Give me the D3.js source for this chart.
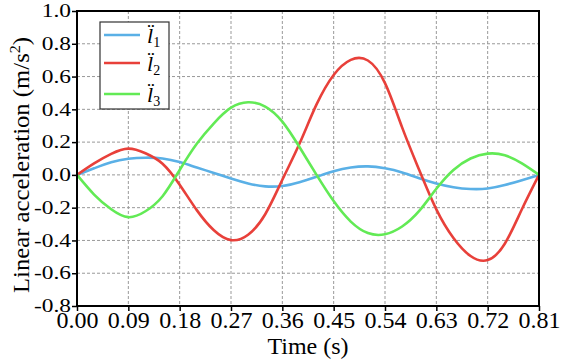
<!DOCTYPE html>
<html><head><meta charset="utf-8">
<script src="https://cdn.jsdelivr.net/npm/d3@7"></script>
<style>body{margin:0;background:#fff}svg{display:block}</style>
</head><body><svg id="c" width="579" height="359" font-family="Liberation Serif"></svg>
<script>
const time = [0,0.03,0.06,0.09,0.12,0.15,0.18,0.21,0.24,0.27,0.30,0.33,0.36,0.39,0.42,0.45,0.48,0.51,0.54,0.57,0.60,0.63,0.66,0.69,0.72,0.75,0.78,0.81];
const l1 = [0,0.040,0.077,0.098,0.105,0.100,0.078,0.045,0.012,-0.022,-0.052,-0.070,-0.068,-0.045,-0.012,0.022,0.045,0.052,0.040,0.015,-0.020,-0.052,-0.075,-0.086,-0.083,-0.062,-0.032,0];
const l2 = [0,0.070,0.128,0.160,0.132,0.068,-0.060,-0.215,-0.338,-0.398,-0.365,-0.240,-0.030,0.190,0.430,0.610,0.702,0.698,0.560,0.290,0.030,-0.210,-0.385,-0.495,-0.520,-0.420,-0.210,0];
const l3 = [0,-0.120,-0.210,-0.258,-0.222,-0.130,0.030,0.190,0.315,0.410,0.443,0.417,0.325,0.170,0.000,-0.160,-0.285,-0.355,-0.362,-0.315,-0.220,-0.085,0.030,0.100,0.130,0.120,0.070,0];
const xTicks = [0,0.09,0.18,0.27,0.36,0.45,0.54,0.63,0.72,0.81];
const xTickLabels = ["0.00","0.09","0.18","0.27","0.36","0.45","0.54","0.63","0.72","0.81"];
const yTicks = [-0.8,-0.6,-0.4,-0.2,0,0.2,0.4,0.6,0.8,1.0];
const yTickLabels = ["-0.8","-0.6","-0.4","-0.2","0.0","0.2","0.4","0.6","0.8","1.0"];
const seriesNames = ["1","2","3"];
const colors = ["#5ab0e6","#e8403a","#62ea55"];

const svg = d3.select("#c");
const FONT = "Liberation Serif";
const L=77,R=539,T=11,B=306;
const x = d3.scaleLinear().domain([0,0.81]).range([L,R]);
const y = d3.scaleLinear().domain([-0.8,1.0]).range([B,T]);

// grid
const g = svg.append("g");
g.selectAll(".gx").data(xTicks.slice(1,-1)).enter().append("line")
 .attr("x1",d=>x(d)).attr("x2",d=>x(d)).attr("y1",T).attr("y2",B)
 .attr("stroke","#999").attr("stroke-width",1).attr("stroke-dasharray","3,2");
g.selectAll(".gy").data(yTicks.slice(1,-1)).enter().append("line")
 .attr("y1",d=>y(d)).attr("y2",d=>y(d)).attr("x1",L).attr("x2",R)
 .attr("stroke","#999").attr("stroke-width",1).attr("stroke-dasharray","3,2");

// lines
const line = d3.line().x((d,i)=>x(time[i])).y(d=>y(d)).curve(d3.curveNatural);
[l1,l2,l3].forEach((s,i)=>{
  svg.append("path").attr("d",line(s)).attr("fill","none").attr("stroke",colors[i]).attr("stroke-width",2.6);
});

// frame
svg.append("rect").attr("x",L).attr("y",T).attr("width",R-L).attr("height",B-T)
 .attr("fill","none").attr("stroke","#000").attr("stroke-width",2);

// axes
const xa = svg.append("g").attr("transform",`translate(0,${B})`)
 .call(d3.axisBottom(x).tickValues(xTicks).tickFormat((d,i)=>xTickLabels[i]).tickSize(5).tickSizeOuter(0));
xa.attr("font-family",FONT);
xa.select(".domain").remove();
xa.selectAll("line").attr("stroke","#000").attr("stroke-width",1.5);
xa.selectAll("text").attr("font-family",FONT).attr("font-size",24).attr("fill","#000").attr("y",5).attr("dy","0.71em");

const ya = svg.append("g").attr("transform",`translate(${L},0)`)
 .call(d3.axisLeft(y).tickValues(yTicks).tickFormat((d,i)=>yTickLabels[i]).tickSize(5).tickSizeOuter(0));
ya.attr("font-family",FONT);
ya.select(".domain").remove();
ya.selectAll("line").attr("stroke","#000").attr("stroke-width",1.5);
ya.selectAll("text").attr("font-family",FONT).attr("font-size",18).attr("fill","#000")
 .attr("x",-6/1.3).attr("dy","0.32em").attr("transform","scale(1.3,1)");

// axis titles
svg.append("text").attr("x",(L+R)/2).attr("y",354).attr("text-anchor","middle")
 .attr("font-family",FONT).attr("font-size",24).text("Time (s)");
const yt = svg.append("text").attr("transform","translate(29,165) rotate(-90)").attr("text-anchor","middle")
 .attr("font-family",FONT).attr("font-size",23).attr("textLength",256).attr("lengthAdjust","spacingAndGlyphs");
yt.append("tspan").text("Linear acceleration (m/s");
yt.append("tspan").attr("font-size",15).attr("dy",-9).text("2");
yt.append("tspan").attr("dy",9).text(")");

// legend
const lg = svg.append("g");
lg.append("rect").attr("x",100).attr("y",22).attr("width",69).attr("height",87)
 .attr("fill","#fff").attr("stroke","#333").attr("stroke-width",1.2);
const ly = [35,63,94];
seriesNames.forEach((n,i)=>{
  lg.append("line").attr("x1",104).attr("x2",140).attr("y1",ly[i]).attr("y2",ly[i])
   .attr("stroke",colors[i]).attr("stroke-width",2.6);
  const t = lg.append("text").attr("x",147).attr("y",ly[i]+8).attr("font-family",FONT).attr("font-size",22);
  t.append("tspan").attr("font-style","italic").text("l\u0308");
  t.append("tspan").attr("font-size",14).attr("dy",4).text(n);
});
</script></body></html>
